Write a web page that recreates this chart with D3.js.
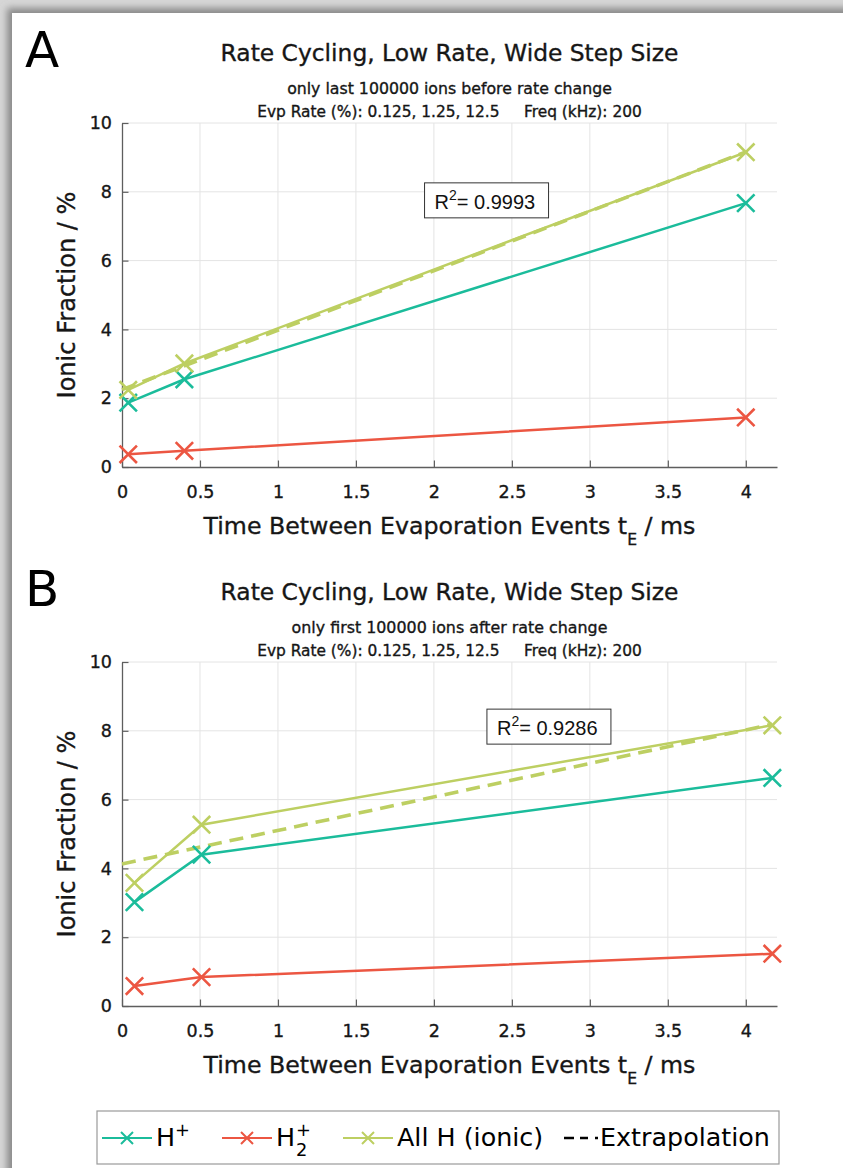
<!DOCTYPE html>
<html>
<head>
<meta charset="utf-8">
<script src="https://cdn.jsdelivr.net/npm/d3@7"></script>
<style>
  html, body { margin: 0; padding: 0; background: #fff; }
  svg { display: block; }
  .heavy { stroke: currentColor; stroke-width: 0.35px; }
</style>
</head>
<body>
<svg id="fig" width="843" height="1168"></svg>
<script>
// ---- data: time between evaporation events (ms) vs ionic fraction (%) ----
const xTicks = [0, 0.5, 1, 1.5, 2, 2.5, 3, 3.5, 4];
const yTicks = [0, 2, 4, 6, 8, 10];

// Panel A: last 100000 ions before the rate change
const timeA  = [0.04, 0.4, 4.0];
const hPlusA = [1.87, 2.55, 7.67];
const h2PlusA = [0.37, 0.47, 1.44];
const allHA  = [2.24, 3.01, 9.15];
const fitA   = [[0, 2.25], [4.0, 9.16]];
const r2A    = "0.9993";

// Panel B: first 100000 ions after the rate change
const timeB  = [0.08, 0.51, 4.17];
const hPlusB = [3.02, 4.40, 6.63];
const h2PlusB = [0.58, 0.84, 1.52];
const allHB  = [3.58, 5.27, 8.16];
const fitB   = [[0, 4.13], [4.17, 8.19]];
const r2B    = "0.9286";

const seriesNames = ["H+", "H2+", "All H (ionic)"];
const colors = { hp: "#1bbc9b", h2: "#ec5642", all: "#bdcf62" };

const FONT = "'DejaVu Sans', 'Noto Sans', sans-serif";
const ARIAL = "'Liberation Sans', Arial, sans-serif";
const INK = "#161616";

// scale a text's font size so that its rendered width equals `width`
function fitText(sel, width) {
  const fs = parseFloat(sel.attr("font-size"));
  const w = sel.node().getComputedTextLength();
  if (w > 0) sel.attr("font-size", (fs * width / w).toFixed(2));
  return sel;
}

const svg = d3.select("#fig").style("color", INK);

// page backdrop with a soft shadow under the white sheet
const defs = svg.append("defs");
defs.append("filter").attr("id", "sheetShadow")
  .attr("x", "-5%").attr("y", "-5%").attr("width", "110%").attr("height", "110%")
  .append("feGaussianBlur").attr("stdDeviation", 3.5);
svg.append("rect").attr("width", 843).attr("height", 1168).attr("fill", "#d6d6d6");
svg.append("rect").attr("x", 7).attr("y", 8).attr("width", 900).attr("height", 1300)
  .attr("fill", "#8a8a8a").attr("filter", "url(#sheetShadow)");
svg.append("rect").attr("x", 12).attr("y", 13).attr("width", 900).attr("height", 1300)
  .attr("fill", "#ffffff");

const x = d3.scaleLinear().domain([0, 4.2]).range([122, 777]);
const tickFmt = d3.format("~g");

function cross(g, cx, cy, color, r, sw) {
  g.append("path")
    .attr("d", `M${cx - r},${cy - r}L${cx + r},${cy + r}M${cx - r},${cy + r}L${cx + r},${cy - r}`)
    .attr("stroke", color).attr("stroke-width", sw || 2.6).attr("fill", "none");
}

function drawPanel(p) {
  const top = p.top;
  const y = d3.scaleLinear().domain([0, 10]).range([top + 344, top]);
  const g = svg.append("g");

  // panel letter
  g.append("text").attr("x", 25).attr("y", top - 56)
    .attr("font-family", FONT).attr("font-size", 50).attr("fill", "#000")
    .text(p.letter);

  // titles
  const cx = (x.range()[0] + x.range()[1]) / 2;
  const t1 = g.append("text").attr("class", "heavy").attr("x", cx).attr("y", top - 62)
    .attr("text-anchor", "middle")
    .attr("font-family", FONT).attr("font-size", 22).attr("fill", INK)
    .text("Rate Cycling, Low Rate, Wide Step Size");
  fitText(t1, 458);
  const t2 = g.append("text").attr("class", "heavy").attr("x", cx).attr("y", top - 29)
    .attr("text-anchor", "middle")
    .attr("font-family", FONT).attr("font-size", 15).attr("fill", INK)
    .text(p.subtitle);
  fitText(t2, p.subWidth);
  const t3 = g.append("text").attr("class", "heavy").attr("x", cx).attr("y", top - 6)
    .attr("text-anchor", "middle")
    .attr("font-family", FONT).attr("font-size", 15).attr("fill", INK)
    .attr("xml:space", "preserve")
    .text("Evp Rate (%): 0.125, 1.25, 12.5     Freq (kHz): 200");
  fitText(t3, 385);

  // grid
  const grid = g.append("g").attr("stroke", "#e4e4e4").attr("stroke-width", 1);
  xTicks.filter(d => d > 0).forEach(d => {
    grid.append("line").attr("x1", x(d)).attr("x2", x(d)).attr("y1", y(0)).attr("y2", y(10));
  });
  yTicks.filter(d => d > 0).forEach(d => {
    grid.append("line").attr("x1", x(0)).attr("x2", x(4.2)).attr("y1", y(d)).attr("y2", y(d));
  });

  // axes with inward ticks
  const ax = g.append("g").attr("transform", `translate(0,${y(0)})`)
    .call(d3.axisBottom(x).tickValues(xTicks).tickFormat(tickFmt)
      .tickSizeInner(-6.5).tickSizeOuter(0).tickPadding(19));
  const ay = g.append("g").attr("transform", `translate(${x(0)},0)`)
    .call(d3.axisLeft(y).tickValues(yTicks).tickFormat(tickFmt)
      .tickSizeInner(-6.5).tickSizeOuter(0).tickPadding(10));
  [ax, ay].forEach(a => {
    a.select(".domain").attr("stroke", "#5e5e5e").attr("stroke-width", 1.3);
    a.selectAll(".tick line").attr("stroke", "#5e5e5e").attr("stroke-width", 1.2);
    a.selectAll(".tick text").attr("class", "heavy")
      .attr("font-family", FONT).attr("font-size", 17.5).attr("fill", INK);
  });

  // axis titles
  const yl = g.append("text").attr("class", "heavy")
    .attr("transform", `translate(75,${(y(0) + y(10)) / 2}) rotate(-90)`)
    .attr("text-anchor", "middle").attr("font-family", FONT).attr("font-size", 22).attr("fill", INK)
    .text("Ionic Fraction / %");
  fitText(yl, 207);
  const xl = g.append("text").attr("class", "heavy").attr("x", cx).attr("y", y(0) + 67)
    .attr("text-anchor", "middle")
    .attr("font-family", FONT).attr("font-size", 22).attr("fill", INK);
  xl.append("tspan").text("Time Between Evaporation Events t");
  xl.append("tspan").attr("font-size", "0.66em").attr("dy", "0.7em").text("E");
  xl.append("tspan").attr("dy", "-0.46em").text(" / ms");
  fitText(xl, 492);

  // extrapolation (linear fit of all ionic H)
  const line = d3.line().x(d => x(d[0])).y(d => y(d[1]));
  g.append("path").datum(p.fit).attr("d", line)
    .attr("stroke", colors.all).attr("stroke-width", 3.6).attr("fill", "none")
    .attr("stroke-dasharray", "14,8");

  // measured series
  const series = [
    { vals: p.h2, color: colors.h2 },
    { vals: p.hp, color: colors.hp },
    { vals: p.all, color: colors.all }
  ];
  series.forEach(s => {
    const pts = p.time.map((t, i) => [t, s.vals[i]]);
    g.append("path").datum(pts).attr("d", line)
      .attr("stroke", s.color).attr("stroke-width", 2.5).attr("fill", "none");
    pts.forEach(d => cross(g, x(d[0]), y(d[1]), s.color, 8.7));
  });

  // R² annotation
  const bx = x(p.r2At[0]), by = y(p.r2At[1]);
  g.append("rect").attr("x", bx).attr("y", by).attr("width", 124).attr("height", 35)
    .attr("fill", "#fff").attr("stroke", "#333").attr("stroke-width", 1);
  const rt = g.append("text").attr("x", bx + 10).attr("y", by + 26)
    .attr("font-family", ARIAL).attr("font-size", 20).attr("fill", "#111");
  rt.append("tspan").text("R");
  rt.append("tspan").attr("font-size", 14).attr("dy", -9).text("2");
  rt.append("tspan").attr("dy", 9).text("= " + p.r2);
}

drawPanel({ letter: "A", top: 123, subtitle: "only last 100000 ions before rate change", subWidth: 325,
  time: timeA, hp: hPlusA, h2: h2PlusA, all: allHA, fit: fitA, r2: r2A, r2At: [1.94, 8.26] });
drawPanel({ letter: "B", top: 662, subtitle: "only first 100000 ions after rate change", subWidth: 316,
  time: timeB, hp: hPlusB, h2: h2PlusB, all: allHB, fit: fitB, r2: r2B, r2At: [2.34, 8.63] });

// ---- legend ----
const lg = svg.append("g");
lg.append("rect").attr("x", 97).attr("y", 1111).attr("width", 682).attr("height", 53)
  .attr("fill", "#fff").attr("stroke", "#9a9a9a").attr("stroke-width", 1.2);
const ly = 1138;

// size legend text from the width of the longest label
const probe = lg.append("text").attr("font-family", FONT).attr("font-size", 20).text("Extrapolation");
fitText(probe, 170);
const LFS = parseFloat(probe.attr("font-size"));
probe.remove();

const legendItems = [
  { x0: 102, color: colors.hp, label: seriesNames[0] },
  { x0: 222, color: colors.h2, label: seriesNames[1] },
  { x0: 343, color: colors.all, label: seriesNames[2] }
];
legendItems.forEach(it => {
  lg.append("line").attr("x1", it.x0).attr("x2", it.x0 + 50).attr("y1", ly).attr("y2", ly)
    .attr("stroke", it.color).attr("stroke-width", 2.2);
  cross(lg, it.x0 + 25, ly, it.color, 6, 2);
  const t = lg.append("text").attr("x", it.x0 + 54).attr("y", ly + 8)
    .attr("font-family", FONT).attr("font-size", LFS).attr("fill", "#000");
  if (it.label === "H+") {
    t.append("tspan").text("H");
    t.append("tspan").attr("font-size", "0.7em").attr("dy", "-0.55em").text("+");
  } else if (it.label === "H2+") {
    t.append("tspan").text("H");
    const hx = it.x0 + 54 + t.node().getComputedTextLength() + 1;
    lg.append("text").attr("x", hx).attr("y", ly + 18)
      .attr("font-family", FONT).attr("font-size", LFS * 0.7).attr("fill", "#000").text("2");
    lg.append("text").attr("x", hx).attr("y", ly - 2)
      .attr("font-family", FONT).attr("font-size", LFS * 0.7).attr("fill", "#000").text("+");
  } else {
    t.text(it.label);
  }
});
lg.append("line").attr("x1", 564).attr("x2", 598).attr("y1", ly).attr("y2", ly)
  .attr("stroke", "#000").attr("stroke-width", 2.6).attr("stroke-dasharray", "10,6,8,7,3");
lg.append("text").attr("x", 600).attr("y", ly + 8)
  .attr("font-family", FONT).attr("font-size", LFS).attr("fill", "#000").text("Extrapolation");
</script>
</body>
</html>
